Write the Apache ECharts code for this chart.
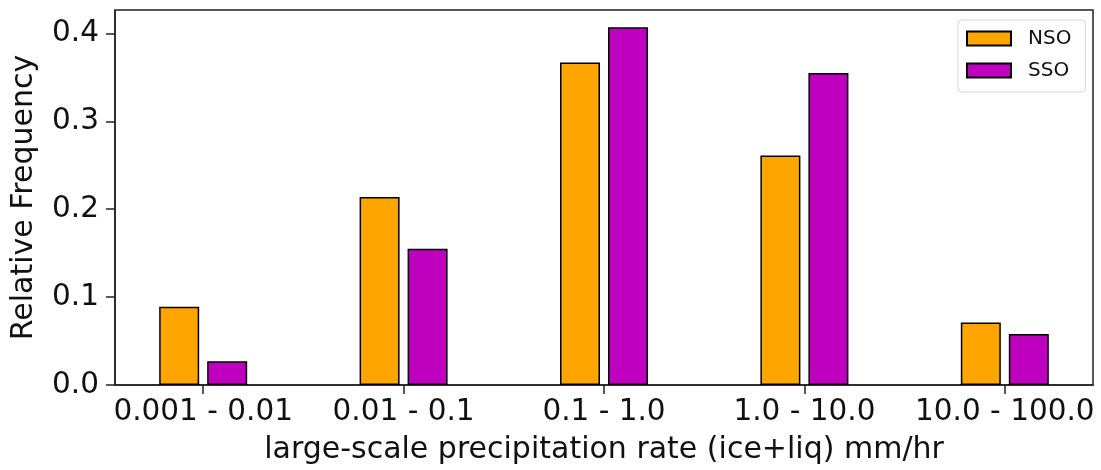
<!DOCTYPE html>
<html>
<head>
<meta charset="utf-8">
<script src="https://cdn.jsdelivr.net/npm/echarts@6/dist/echarts.min.js"></script>
<style>
  html, body { margin: 0; padding: 0; background: #fff; }
  #chart { width: 1101px; height: 470px; }
</style>
</head>
<body>
<div id="chart"></div>
<script>
// Precipitation-rate bins and the relative frequency of each region
const categories = ['0.001 - 0.01', '0.01 - 0.1', '0.1 - 1.0', '1.0 - 10.0', '10.0 - 100.0'];
const nsoValues = [0.089, 0.214, 0.367, 0.261, 0.071];
const ssoValues = [0.027, 0.155, 0.407, 0.355, 0.058];
const yTicks = [0, 0.1, 0.2, 0.3, 0.4];

const FONT = 'DejaVu Sans';
const positions = categories.map((_, i) => i);

const chart = echarts.init(document.getElementById('chart'), null, { renderer: 'canvas' });

chart.setOption({
  animation: false,
  backgroundColor: '#ffffff',
  grid: {
    left: 115, right: 8, top: 10, bottom: 84.5,
    show: true, borderColor: '#222', borderWidth: 1.5, backgroundColor: 'transparent'
  },
  legend: {
    orient: 'vertical',
    left: 958, top: 20,
    icon: 'rect',
    itemWidth: 44, itemHeight: 14, itemGap: 12,
    padding: [8.5, 14, 11.5, 8],
    backgroundColor: '#fff',
    borderColor: '#d6d6d6', borderWidth: 1, borderRadius: 4,
    textStyle: { fontFamily: FONT, fontSize: 20, color: '#111', padding: [0, 0, 0, 12] },
    data: ['NSO', 'SSO']
  },
  xAxis: {
    type: 'value',
    min: -0.44, max: 4.44,
    name: 'large-scale precipitation rate (ice+liq) mm/hr',
    nameLocation: 'middle', nameGap: 50,
    nameTextStyle: { fontFamily: FONT, fontSize: 30, color: '#111' },
    axisLine: { show: true, onZero: false, lineStyle: { color: '#222', width: 1.5 } },
    axisTick: { show: true, inside: false, length: 9, customValues: positions, lineStyle: { color: '#222', width: 1.5 } },
    axisLabel: {
      customValues: positions,
      formatter: v => categories[Math.round(v)],
      fontFamily: FONT, fontSize: 29.5, color: '#111', margin: 12
    },
    splitLine: { show: false }
  },
  yAxis: {
    type: 'value',
    min: 0, max: 0.4267,
    name: 'Relative Frequency',
    nameLocation: 'middle', nameGap: 76,
    nameTextStyle: { fontFamily: FONT, fontSize: 30, color: '#111' },
    axisLine: { show: true, onZero: false, lineStyle: { color: '#222', width: 1.5 } },
    axisTick: { show: true, inside: false, length: 9, customValues: yTicks, lineStyle: { color: '#222', width: 1.5 } },
    axisLabel: {
      customValues: yTicks,
      formatter: v => v.toFixed(1),
      fontFamily: FONT, fontSize: 29.5, color: '#111', margin: 16
    },
    splitLine: { show: false }
  },
  series: [
    {
      name: 'NSO', type: 'bar', barWidth: 40, barGap: '20%',
      itemStyle: { color: '#FFA500', borderColor: '#000', borderWidth: 1.5 },
      data: nsoValues.map((v, i) => [positions[i], v])
    },
    {
      name: 'SSO', type: 'bar', barWidth: 40, barGap: '20%',
      itemStyle: { color: '#BF00BF', borderColor: '#000', borderWidth: 1.5 },
      data: ssoValues.map((v, i) => [positions[i], v])
    }
  ]
});
</script>
</body>
</html>
